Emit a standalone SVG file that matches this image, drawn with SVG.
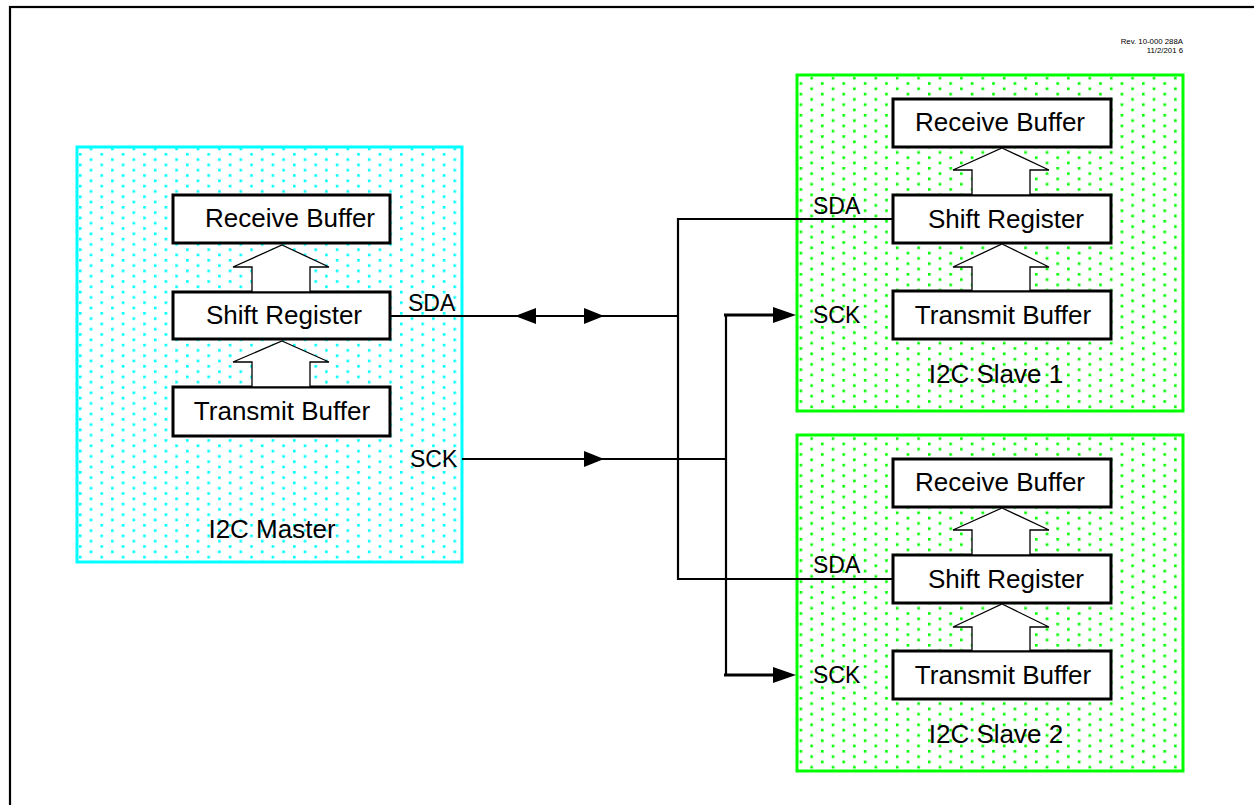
<svg xmlns="http://www.w3.org/2000/svg" width="1254" height="805" viewBox="0 0 1254 805">
<style>
  .t { font-family: "Liberation Sans", Arial, sans-serif; fill: #000; }
  .lbl { font-size: 26px; text-anchor: middle; }
  .pin { font-size: 23px; }
  .blk { fill: #fff; stroke: #000; stroke-width: 3; }
  .barrow { fill: #fff; stroke: #000; stroke-width: 1.3; stroke-linejoin: miter; }
  .wire { fill: none; stroke: #000; stroke-width: 2.2; }
  .wire3 { fill: none; stroke: #000; stroke-width: 3.2; }
  .ah { fill: #000; stroke: none; }
</style>
<defs>
  <pattern id="dotsC" patternUnits="userSpaceOnUse" x="79" y="153" width="21.4" height="10.6">
    <rect x="0" y="0" width="2.6" height="2.6" fill="#00FFFF"/>
    <rect x="10.7" y="5.3" width="2.6" height="2.6" fill="#00FFFF"/>
  </pattern>
  <pattern id="dotsG" patternUnits="userSpaceOnUse" x="7.8" y="8" width="21.4" height="10.6">
    <rect x="0" y="0" width="2.6" height="2.6" fill="#00FF00"/>
    <rect x="10.7" y="5.3" width="2.6" height="2.6" fill="#00FF00"/>
  </pattern>
</defs>
<rect width="1254" height="805" fill="#fff"/>
<rect x="10" y="7" width="1300" height="900" fill="none" stroke="#000" stroke-width="2.2"/>
<text class="t" x="1183" y="44" font-size="7.8" text-anchor="end" fill="#333">Rev. 10-000 288A</text>
<text class="t" x="1183" y="53" font-size="7.8" text-anchor="end" fill="#333">11/2/201 6</text>

<g id="master">
  <rect x="77" y="147" width="385" height="415" fill="url(#dotsC)" stroke="#00FFFF" stroke-width="3"/>
  <g id="master-receive"><rect class="blk" x="173" y="195" width="217" height="48"/><text class="t lbl" x="290" y="227">Receive Buffer</text></g>
  <g id="master-shift"><rect class="blk" x="173" y="292" width="217" height="47"/><text class="t lbl" x="284" y="324">Shift Register</text></g>
  <g id="master-transmit"><rect class="blk" x="173" y="387" width="217" height="49"/><text class="t lbl" x="282" y="420">Transmit Buffer</text></g>
  <polygon class="barrow" points="282,245 329,267 310,267 310,292 252,292 252,267 233,267"/>
  <polygon class="barrow" points="282,341 329,362 310,362 310,387 252,387 252,362 233,362"/>
  <text class="t pin" x="408" y="311">SDA</text>
  <text class="t pin" x="410" y="467">SCK</text>
  <text class="t lbl" x="272" y="538">I2C Master</text>
</g>

<g id="slave1">
  <rect x="797" y="75" width="386" height="336" fill="url(#dotsG)" stroke="#00FF00" stroke-width="3"/>
  <g id="slave1-receive"><rect class="blk" x="893" y="99" width="218" height="48"/><text class="t lbl" x="1000" y="131">Receive Buffer</text></g>
  <g id="slave1-shift"><rect class="blk" x="893" y="195" width="218" height="48"/><text class="t lbl" x="1006" y="228">Shift Register</text></g>
  <g id="slave1-transmit"><rect class="blk" x="893" y="291" width="218" height="48"/><text class="t lbl" x="1003" y="324">Transmit Buffer</text></g>
  <polygon class="barrow" points="1002,148 1049,170 1030,170 1030,195 972,195 972,170 953,170"/>
  <polygon class="barrow" points="1002,244 1049,267 1030,267 1030,291 972,291 972,267 953,267"/>
  <text class="t pin" x="813" y="214">SDA</text>
  <text class="t pin" x="813" y="323">SCK</text>
  <text class="t lbl" x="996" y="383">I2C Slave 1</text>
</g>

<g id="slave2">
  <rect x="797" y="435" width="386" height="336" fill="url(#dotsG)" stroke="#00FF00" stroke-width="3"/>
  <g id="slave2-receive"><rect class="blk" x="893" y="459" width="218" height="48"/><text class="t lbl" x="1000" y="491">Receive Buffer</text></g>
  <g id="slave2-shift"><rect class="blk" x="893" y="555" width="218" height="48"/><text class="t lbl" x="1006" y="588">Shift Register</text></g>
  <g id="slave2-transmit"><rect class="blk" x="893" y="651" width="218" height="48"/><text class="t lbl" x="1003" y="684">Transmit Buffer</text></g>
  <polygon class="barrow" points="1002,508 1049,530 1030,530 1030,555 972,555 972,530 953,530"/>
  <polygon class="barrow" points="1002,604 1049,627 1030,627 1030,651 972,651 972,627 953,627"/>
  <text class="t pin" x="813" y="573">SDA</text>
  <text class="t pin" x="813" y="683">SCK</text>
  <text class="t lbl" x="996" y="743">I2C Slave 2</text>
</g>

<g id="connectors">
  <line class="wire" x1="390" y1="316" x2="678" y2="316"/>
  <polygon class="ah" points="515,316 536,308 536,324"/>
  <polygon class="ah" points="604,316 584,308 584,324"/>
  <line class="wire" x1="678" y1="218" x2="678" y2="580"/>
  <line class="wire" x1="677" y1="219" x2="893" y2="219"/>
  <line class="wire" x1="677" y1="579" x2="893" y2="579"/>
  <line class="wire" x1="462" y1="459" x2="727" y2="459"/>
  <polygon class="ah" points="604,459 584,451 584,467"/>
  <line class="wire" x1="726" y1="314" x2="726" y2="676"/>
  <line class="wire3" x1="724" y1="315" x2="780" y2="315"/>
  <polygon class="ah" points="796,315 773,307 773,323"/>
  <line class="wire3" x1="724" y1="675" x2="780" y2="675"/>
  <polygon class="ah" points="796,675 773,667 773,683"/>
</g>
</svg>
